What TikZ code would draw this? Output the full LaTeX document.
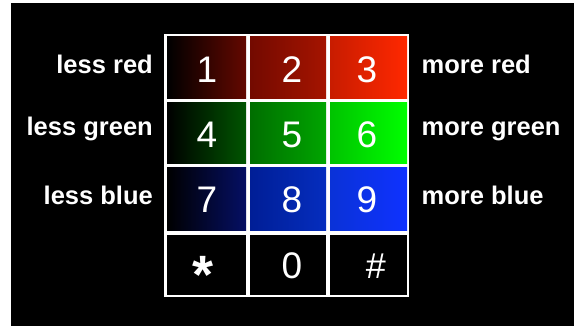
\documentclass[tikz,border=0pt]{standalone}
\usepackage{fontspec}
\setmainfont{Liberation Sans}
\definecolor{rA}{RGB}{0,0,0}
\definecolor{rB}{RGB}{100,8,0}
\definecolor{rC}{RGB}{115,10,0}
\definecolor{rD}{RGB}{165,20,0}
\definecolor{rE}{RGB}{200,28,0}
\definecolor{rF}{RGB}{255,40,0}
\definecolor{gB}{RGB}{0,85,0}
\definecolor{gC}{RGB}{0,110,0}
\definecolor{gD}{RGB}{0,165,0}
\definecolor{gE}{RGB}{0,195,0}
\definecolor{gF}{RGB}{0,255,0}
\definecolor{bB}{RGB}{5,15,100}
\definecolor{bC}{RGB}{0,30,150}
\definecolor{bD}{RGB}{5,45,190}
\definecolor{bE}{RGB}{10,50,215}
\definecolor{bF}{RGB}{15,50,255}
\tikzset{
  cell/.style={inner sep=0pt, outer sep=0pt, draw=none, rectangle},
  digit/.style={inner sep=0pt, text=white, anchor=base, font=\fontsize{37}{40}\selectfont},
  lbl/.style={inner sep=0pt, text=white, font=\fontsize{25.5}{30}\selectfont\bfseries},
  lleft/.style={lbl, anchor=base east},
  lright/.style={lbl, anchor=base west},
}
\begin{document}
\begin{tikzpicture}[x=1pt,y=-1pt]
\useasboundingbox (0,0) rectangle (574,326);
\fill[white] (0,0) rectangle (574,326);
\fill[black] (11,3) rectangle (574,326);
% frame
\node[cell, fill=white, minimum width=245pt, minimum height=263pt] (frame) at (286.5,165.5) {};
% row 1
\node[cell, left color=rA, right color=rB, minimum width=79pt, minimum height=62pt] (c1) at (206.5,68) {};
\node[cell, left color=rC, right color=rD, minimum width=76pt, minimum height=62pt] (c2) at (288,68) {};
\node[cell, left color=rE, right color=rF, minimum width=77pt, minimum height=62pt] (c3) at (368.5,68) {};
% row 2
\node[cell, left color=rA, right color=gB, minimum width=79pt, minimum height=61pt] (c4) at (206.5,133.5) {};
\node[cell, left color=gC, right color=gD, minimum width=76pt, minimum height=61pt] (c5) at (288,133.5) {};
\node[cell, left color=gE, right color=gF, minimum width=77pt, minimum height=61pt] (c6) at (368.5,133.5) {};
% row 3
\node[cell, left color=rA, right color=bB, minimum width=79pt, minimum height=63pt] (c7) at (206.5,199.5) {};
\node[cell, left color=bC, right color=bD, minimum width=76pt, minimum height=63pt] (c8) at (288,199.5) {};
\node[cell, left color=bE, right color=bF, minimum width=77pt, minimum height=63pt] (c9) at (368.5,199.5) {};
% row 4
\node[cell, fill=black, minimum width=79pt, minimum height=60pt] (cs) at (206.5,265) {};
\node[cell, fill=black, minimum width=76pt, minimum height=60pt] (c0) at (288,265) {};
\node[cell, fill=black, minimum width=77pt, minimum height=60pt] (ch) at (368.5,265) {};
% digits
\node[digit] (d1) at (207,83) {1};
\node[digit] (d2) at (292,83) {2};
\node[digit] (d3) at (367,83) {3};
\node[digit] (d4) at (207,148) {4};
\node[digit] (d5) at (292,148) {5};
\node[digit] (d6) at (367,148) {6};
\node[digit] (d7) at (207,213) {7};
\node[digit] (d8) at (292,213) {8};
\node[digit] (d9) at (367,213) {9};
\node[digit, font=\fontsize{54}{58}\selectfont\bfseries] (dstar) at (203,294) {*};
\node[digit] (d0) at (292,279) {0};
\node[digit, font=\fontsize{36}{40}\selectfont] (dhash) at (376,279) {\#};
% labels
\node[lleft] (lr) at (153,74) {less red};
\node[lleft] (lg) at (153,136) {less green};
\node[lleft] (lb) at (153,205) {less blue};
\node[lright] (mr) at (421.5,74) {more red};
\node[lright] (mg) at (421.5,136) {more green};
\node[lright] (mb) at (421.5,205) {more blue};
\end{tikzpicture}
\end{document}
